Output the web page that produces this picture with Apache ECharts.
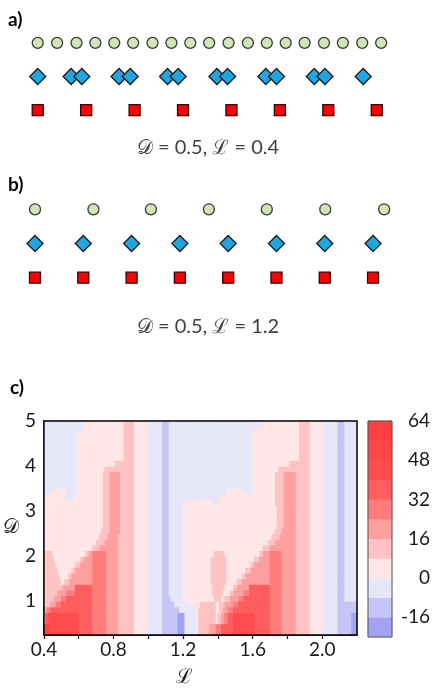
<!DOCTYPE html>
<html><head><meta charset="utf-8">
<script src="https://cdn.jsdelivr.net/npm/echarts@6/dist/echarts.min.js"></script>
<style>html,body{margin:0;padding:0;background:#fff}#c{width:435px;height:689px}</style>
</head><body><div id="c"></div>
<script>
// ---------- panel a (D = 0.5, L = 0.4): positions in lattice units ----------
const aCircles  = [0, 0.40, 0.80, 1.19, 1.58, 1.97, 2.37, 2.76, 3.15, 3.54, 3.94, 4.34, 4.73, 5.12, 5.51, 5.91, 6.30, 6.70, 7.09];
const aDiamonds = [0, 0.69, 0.91, 1.68, 1.91, 2.68, 2.90, 3.70, 3.92, 4.71, 4.93, 5.71, 5.93, 6.72];
const aSquares  = [0, 1, 2, 3, 4, 5, 6, 7];
// ---------- panel b (D = 0.5, L = 1.2) ----------
const bCircles  = [0, 1.21, 2.40, 3.60, 4.80, 6.01, 7.23];
const bDiamonds = [0, 1, 2, 3, 4, 5, 6, 7];
const bSquares  = [0, 1, 2, 3, 4, 5, 6, 7];

// ---------- panel c: contour levels ----------
const levelEdges  = [-24, -16, -8, 0, 8, 16, 24, 32, 40, 48, 56, 64];
const levelColors = ['#a3a3f4', '#c6c6f6', '#e7e7fa', '#ffe7e7', '#ffc3c3', '#ffa0a0',
                     '#ff7d7d', '#ff5e5e', '#ff4c4c', '#ff4646', '#ff4040'];
const levelMid    = [-20, -12, -4, 4, 12, 20, 28, 36, 44, 52, 60];
const cbarLabels  = [-16, 0, 16, 32, 48, 64];
const xTickLabels = [0.4, 0.8, 1.2, 1.6, 2.0];
const xTicks      = [0.4, 0.6, 0.8, 1.0, 1.2, 1.4, 1.6, 1.8, 2.0];
const yTickLabels = [1, 2, 3, 4, 5];
const yTicks      = [0.5, 1, 1.5, 2, 2.5, 3, 3.5, 4, 4.5, 5];

// Contour map: [D low, D high, [[level index, L end], ...]]
const contourBands = [
 [4.875,5.0,  [[2,.64],[3,.865],[4,.92],[3,1.005],[2,1.08],[1,1.12],[2,1.66],[3,1.87],[4,1.93],[3,2.01],[2,2.09],[1,2.13],[2,2.3]]],
 [4.75,4.875, [[2,.62],[3,.865],[4,.92],[3,1.005],[2,1.08],[1,1.12],[2,1.615],[3,1.87],[4,1.93],[3,2.01],[2,2.09],[1,2.13],[2,2.3]]],
 [4.125,4.75, [[2,.595],[3,.865],[4,.92],[3,1.005],[2,1.08],[1,1.12],[2,1.605],[3,1.87],[4,1.93],[3,2.01],[2,2.09],[1,2.13],[2,2.3]]],
 [4.0,4.125,  [[2,.595],[3,.81],[4,.92],[3,1.005],[2,1.08],[1,1.12],[2,1.605],[3,1.815],[4,1.93],[3,2.01],[2,2.09],[1,2.13],[2,2.3]]],
 [3.875,4.0,  [[2,.595],[3,.75],[4,.92],[3,1.005],[2,1.08],[1,1.12],[2,1.605],[3,1.75],[4,1.93],[3,2.01],[2,2.09],[1,2.13],[2,2.3]]],
 [3.5,3.875,  [[2,.595],[3,.74],[4,.785],[5,.84],[4,.92],[3,1.005],[2,1.08],[1,1.12],[2,1.605],[3,1.735],[4,1.78],[5,1.85],[4,1.93],[3,2.01],[2,2.09],[1,2.13],[2,2.3]]],
 [3.375,3.5,  [[2,.45],[3,.53],[2,.595],[3,.74],[4,.785],[5,.84],[4,.92],[3,1.005],[2,1.08],[1,1.12],[2,1.45],[3,1.555],[2,1.605],[3,1.735],[4,1.78],[5,1.85],[4,1.93],[3,2.01],[2,2.09],[1,2.13],[2,2.3]]],
 [3.25,3.375, [[3,.52],[2,.58],[3,.74],[4,.785],[5,.84],[4,.92],[3,1.005],[2,1.08],[1,1.12],[2,1.41],[3,1.735],[4,1.78],[5,1.85],[4,1.93],[3,2.01],[2,2.09],[1,2.13],[2,2.3]]],
 [3.125,3.25, [[3,.74],[4,.785],[5,.84],[4,.92],[3,1.005],[2,1.08],[1,1.12],[2,1.205],[3,1.37],[2,1.40],[3,1.735],[4,1.78],[5,1.85],[4,1.93],[3,2.01],[2,2.09],[1,2.13],[2,2.3]]],
 [2.625,3.125,[[3,.74],[4,.785],[5,.84],[4,.92],[3,1.005],[2,1.08],[1,1.12],[2,1.205],[3,1.74],[4,1.78],[5,1.85],[4,1.93],[3,2.01],[2,2.09],[1,2.13],[2,2.3]]],
 [2.5,2.625,  [[3,.735],[4,.78],[5,.84],[4,.92],[3,1.005],[2,1.08],[1,1.12],[2,1.205],[3,1.735],[4,1.775],[5,1.85],[4,1.93],[3,2.01],[2,2.09],[1,2.13],[2,2.3]]],
 [2.375,2.5,  [[3,.725],[4,.77],[5,.835],[4,.92],[3,1.005],[2,1.08],[1,1.12],[2,1.205],[3,1.715],[4,1.76],[5,1.85],[4,1.93],[3,2.01],[2,2.09],[1,2.13],[2,2.3]]],
 [2.25,2.375, [[3,.705],[4,.755],[5,.835],[4,.92],[3,1.005],[2,1.08],[1,1.12],[2,1.205],[3,1.69],[4,1.73],[5,1.85],[4,1.93],[3,2.01],[2,2.09],[1,2.13],[2,2.3]]],
 [2.125,2.25, [[3,.68],[4,.72],[5,.835],[4,.92],[3,1.005],[2,1.08],[1,1.12],[2,1.205],[3,1.665],[4,1.70],[5,1.85],[4,1.93],[3,2.01],[2,2.09],[1,2.13],[2,2.3]]],
 [2.0,2.125,  [[4,.45],[3,.645],[4,.665],[5,.685],[6,.76],[5,.835],[4,.92],[3,1.005],[2,1.08],[1,1.12],[2,1.205],[3,1.38],[4,1.44],[3,1.64],[4,1.665],[5,1.70],[6,1.77],[5,1.85],[4,1.93],[3,2.01],[2,2.09],[1,2.13],[2,2.3]]],
 [1.875,2.0,  [[4,.46],[3,.615],[4,.635],[5,.68],[6,.76],[5,.835],[4,.92],[3,1.005],[2,1.08],[1,1.12],[2,1.205],[3,1.365],[4,1.45],[3,1.615],[4,1.64],[5,1.70],[6,1.77],[5,1.85],[4,1.93],[3,2.01],[2,2.09],[1,2.13],[2,2.3]]],
 [1.75,1.875, [[4,.47],[3,.585],[4,.61],[5,.68],[6,.76],[5,.835],[4,.92],[3,1.005],[2,1.08],[1,1.12],[2,1.205],[3,1.365],[4,1.45],[3,1.59],[4,1.615],[5,1.70],[6,1.77],[5,1.85],[4,1.93],[3,2.01],[2,2.09],[1,2.13],[2,2.3]]],
 [1.625,1.75, [[4,.48],[3,.56],[4,.585],[5,.68],[6,.76],[5,.835],[4,.92],[3,1.005],[2,1.08],[1,1.12],[2,1.205],[3,1.365],[4,1.45],[3,1.565],[4,1.59],[5,1.70],[6,1.77],[5,1.85],[4,1.93],[3,2.01],[2,2.09],[1,2.13],[2,2.3]]],
 [1.5,1.625,  [[4,.49],[3,.54],[4,.565],[5,.68],[6,.76],[5,.835],[4,.92],[3,1.005],[2,1.08],[1,1.12],[2,1.205],[3,1.365],[4,1.45],[3,1.54],[4,1.565],[5,1.70],[6,1.77],[5,1.85],[4,1.93],[3,2.01],[2,2.09],[1,2.13],[2,2.3]]],
 [1.375,1.5,  [[4,.50],[3,.525],[4,.55],[5,.68],[6,.76],[5,.835],[4,.92],[3,1.005],[2,1.08],[1,1.12],[2,1.205],[3,1.365],[4,1.45],[3,1.515],[4,1.54],[5,1.70],[6,1.77],[5,1.85],[4,1.93],[3,2.01],[2,2.09],[1,2.13],[2,2.3]]],
 [1.25,1.375, [[4,.51],[5,.58],[7,.68],[6,.76],[5,.835],[4,.92],[3,1.005],[2,1.08],[1,1.12],[2,1.205],[3,1.37],[4,1.44],[3,1.49],[4,1.515],[5,1.585],[7,1.70],[6,1.77],[5,1.85],[4,1.93],[3,2.01],[2,2.09],[1,2.13],[2,2.3]]],
 [1.125,1.25, [[4,.48],[5,.53],[6,.58],[7,.68],[6,.76],[5,.835],[4,.92],[3,1.005],[2,1.08],[1,1.12],[2,1.205],[3,1.375],[4,1.43],[3,1.47],[4,1.495],[5,1.55],[6,1.585],[7,1.70],[6,1.77],[5,1.85],[4,1.93],[3,2.01],[2,2.09],[1,2.13],[2,2.3]]],
 [1.0,1.125,  [[4,.46],[5,.50],[6,.53],[7,.68],[6,.76],[5,.835],[4,.92],[3,1.005],[2,1.08],[1,1.13],[2,1.205],[3,1.38],[4,1.42],[3,1.445],[4,1.47],[5,1.52],[6,1.555],[7,1.70],[6,1.77],[5,1.85],[4,1.93],[3,2.01],[2,2.09],[1,2.13],[2,2.3]]],
 [0.875,1.0,  [[4,.44],[5,.47],[6,.50],[7,.68],[6,.76],[5,.835],[4,.92],[3,1.005],[2,1.08],[1,1.155],[2,1.24],[3,1.30],[4,1.395],[3,1.415],[4,1.44],[5,1.49],[6,1.525],[7,1.70],[6,1.77],[5,1.85],[4,1.93],[3,2.01],[2,2.09],[1,2.3]]],
 [0.75,0.875, [[5,.42],[6,.44],[7,.68],[6,.76],[5,.835],[4,.92],[3,1.005],[2,1.08],[1,1.18],[2,1.27],[3,1.29],[4,1.39],[3,1.41],[4,1.43],[5,1.46],[6,1.49],[7,1.70],[6,1.77],[5,1.85],[4,1.93],[3,2.01],[2,2.09],[1,2.3]]],
 [0.5,0.75,   [[5,.415],[7,.435],[8,.60],[7,.68],[6,.76],[5,.835],[4,.92],[3,1.005],[2,1.08],[1,1.17],[0,1.21],[2,1.28],[3,1.29],[4,1.39],[3,1.405],[4,1.42],[5,1.44],[6,1.46],[7,1.49],[8,1.61],[7,1.70],[6,1.77],[5,1.85],[4,1.93],[3,2.01],[2,2.09],[1,2.175],[0,2.3]]],
 [0.25,0.5,   [[10,.435],[8,.60],[7,.68],[6,.76],[5,.835],[4,.92],[3,1.005],[2,1.08],[1,1.17],[0,1.21],[2,1.28],[3,1.29],[4,1.355],[5,1.39],[6,1.42],[7,1.49],[8,1.61],[7,1.70],[6,1.77],[5,1.85],[4,1.93],[3,2.01],[2,2.09],[1,2.175],[0,2.3]]]
];

// grid of cells (L step 0.01, D step 0.125)
const lStep = 0.01, dStep = 0.125;
const lCols = []; for (let j = 0; j < 180; j++) lCols.push(+(0.4 + lStep * (j + 0.5)).toFixed(4));
const dRows = []; for (let i = 0; i < 38; i++) dRows.push(+(0.25 + dStep * (i + 0.5)).toFixed(4));

const heatData = [];
dRows.forEach(d => {
  const band = contourBands.find(b => d >= b[0] && d < b[1]);
  lCols.forEach(l => {
    const run = band[2].find(r => l < r[1]);
    heatData.push([l, d, levelMid[run[0]]]);
  });
});
const cbarData = levelMid.map((v, k) => [0, k, v]);

const FONT = 'Lato';
const chart = echarts.init(document.getElementById('c'), null, {renderer: 'canvas'});
const scriptD = '\u{1D49F}', scriptL = '\u2112';

chart.setOption({
  animation: false,
  backgroundColor: '#fff',
  textStyle: {fontFamily: FONT},
  grid: [
    {left: 41, top: 421, width: 316, height: 216, show: true, borderColor: '#000', borderWidth: 1.5, backgroundColor: 'transparent', z: 10},
    {left: 368, top: 421, width: 24, height: 216, show: true, borderColor: '#555', borderWidth: 1, backgroundColor: 'transparent', z: 10},
    {left: 13.5, top: 26, width: 411.7, height: 101},
    {left: 10.85, top: 192.2, width: 410.5, height: 102.6}
  ],
  xAxis: [
    {type: 'value', gridIndex: 0, position: 'bottom', min: 0.4, max: 2.2,
     axisLine: {show: true, onZero: false, lineStyle: {color: '#000', width: 1.5}},
     axisTick: {show: true, customValues: xTicks, length: 4, lineStyle: {color: '#000', width: 1.2}},
     axisLabel: {customValues: xTickLabels, formatter: v => v.toFixed(1), margin: 5, fontSize: 19, color: '#1a1a1a', fontFamily: FONT},
     splitLine: {show: false},
     name: scriptL, nameLocation: 'middle', nameGap: 33,
     nameTextStyle: {fontSize: 20, color: '#1a1a1a', fontFamily: 'DejaVu Serif', padding: [0, 32, 0, 0]}},
    {type: 'value', gridIndex: 0, position: 'top', min: 0.4, max: 2.2,
     axisLine: {show: false, onZero: false},
     axisTick: {show: true, inside: true, customValues: xTicks, length: 3, lineStyle: {color: '#333'}},
     axisLabel: {show: false}, splitLine: {show: false}},
    {type: 'category', gridIndex: 1, data: ['bar'], show: false},
    {type: 'value', gridIndex: 2, min: -0.5, max: 8, show: false},
    {type: 'value', gridIndex: 3, min: -0.5, max: 8, show: false}
  ],
  yAxis: [
    {type: 'value', gridIndex: 0, position: 'left', min: 0.25, max: 5,
     axisLine: {show: true, onZero: false, lineStyle: {color: '#000', width: 1.5}},
     axisTick: {show: true, inside: true, customValues: yTicks, length: 4, lineStyle: {color: '#000', width: 1.2}},
     axisLabel: {customValues: yTickLabels, margin: 8, fontSize: 19, color: '#1a1a1a', fontFamily: FONT},
     splitLine: {show: false},
     name: scriptD, nameLocation: 'middle', nameGap: 24, nameRotate: 0,
     nameTextStyle: {fontSize: 20, color: '#1a1a1a', fontFamily: 'DejaVu Serif', padding: [10, 0, 0, 0]}},
    {type: 'value', gridIndex: 0, position: 'right', min: 0.25, max: 5,
     axisLine: {show: false, onZero: false},
     axisTick: {show: true, inside: true, customValues: [1, 2, 3, 4], length: 3, lineStyle: {color: '#333'}},
     axisLabel: {show: false}, splitLine: {show: false}},
    {type: 'category', gridIndex: 1, data: levelMid.map(String), show: false},
    {type: 'value', gridIndex: 1, position: 'right', min: -24, max: 64,
     axisLine: {show: false, onZero: false},
     axisTick: {show: true, inside: true, customValues: cbarLabels, length: 3, lineStyle: {color: '#555'}},
     axisLabel: {customValues: cbarLabels, align: 'right', margin: 38, fontSize: 19, color: '#1a1a1a', fontFamily: FONT},
     splitLine: {show: false}},
    {type: 'value', gridIndex: 2, min: 0.5, max: 3.5, show: false},
    {type: 'value', gridIndex: 3, min: 0.5, max: 3.5, show: false}
  ],
  visualMap: {
    type: 'piecewise', show: false, seriesIndex: [0, 1], dimension: 2,
    pieces: levelColors.map((c, k) => ({min: levelEdges[k], max: levelEdges[k + 1], color: c}))
  },
  graphic: [
    {type: 'text', x: 8, y: 20, style: {text: 'a)', font: 'bold 19px ' + FONT, fill: '#000', verticalAlign: 'middle'}},
    {type: 'text', x: 8, y: 185, style: {text: 'b)', font: 'bold 19px ' + FONT, fill: '#000', verticalAlign: 'middle'}},
    {type: 'text', x: 10, y: 388, style: {text: 'c)', font: 'bold 19px ' + FONT, fill: '#000', verticalAlign: 'middle'}},
    {type: 'text', x: 208, y: 148, style: {text: scriptD + ' = 0.5, ' + scriptL + ' = 0.4', font: '20px ' + FONT, fill: '#404040', align: 'center', verticalAlign: 'middle'}},
    {type: 'text', x: 208, y: 327, style: {text: scriptD + ' = 0.5, ' + scriptL + ' = 1.2', font: '20px ' + FONT, fill: '#404040', align: 'center', verticalAlign: 'middle'}}
  ],
  series: [
    {type: 'custom', xAxisIndex: 0, yAxisIndex: 0, data: heatData, clip: true, progressive: 0,
     renderItem: (params, api) => {
       const l = api.value(0), d = api.value(1);
       const p0 = api.coord([l - lStep / 2, d + dStep / 2]);
       const p1 = api.coord([l + lStep / 2, d - dStep / 2]);
       return {type: 'rect', shape: {x: p0[0] - 0.4, y: p0[1] - 0.4, width: p1[0] - p0[0] + 0.8, height: p1[1] - p0[1] + 0.8},
               style: {fill: api.visual('color')}};
     }},
    {type: 'heatmap', xAxisIndex: 2, yAxisIndex: 2, data: cbarData, progressive: 0, itemStyle: {borderWidth: 0}, emphasis: {disabled: true}},
    {type: 'scatter', xAxisIndex: 3, yAxisIndex: 4, data: aCircles.map(x => [x, 3]), symbol: 'circle', symbolSize: 11,
     itemStyle: {color: '#d3e5b6', borderColor: '#3a3a3a', borderWidth: 1.3, opacity: 1}},
    {type: 'scatter', xAxisIndex: 3, yAxisIndex: 4, data: aDiamonds.map(x => [x, 2]), symbol: 'diamond', symbolSize: 16,
     itemStyle: {color: '#1fa7e1', borderColor: '#1a1a1a', borderWidth: 1.3, opacity: 1}},
    {type: 'scatter', xAxisIndex: 3, yAxisIndex: 4, data: aSquares.map(x => [x, 1]), symbol: 'rect', symbolSize: 11,
     itemStyle: {color: '#ff0000', borderColor: '#3a0000', borderWidth: 1.3, opacity: 1}},
    {type: 'scatter', xAxisIndex: 4, yAxisIndex: 5, data: bCircles.map(x => [x, 3]), symbol: 'circle', symbolSize: 11,
     itemStyle: {color: '#d3e5b6', borderColor: '#3a3a3a', borderWidth: 1.3, opacity: 1}},
    {type: 'scatter', xAxisIndex: 4, yAxisIndex: 5, data: bDiamonds.map(x => [x, 2]), symbol: 'diamond', symbolSize: 16,
     itemStyle: {color: '#1fa7e1', borderColor: '#1a1a1a', borderWidth: 1.3, opacity: 1}},
    {type: 'scatter', xAxisIndex: 4, yAxisIndex: 5, data: bSquares.map(x => [x, 1]), symbol: 'rect', symbolSize: 11,
     itemStyle: {color: '#ff0000', borderColor: '#3a0000', borderWidth: 1.3, opacity: 1}}
  ]
});
</script></body></html>
